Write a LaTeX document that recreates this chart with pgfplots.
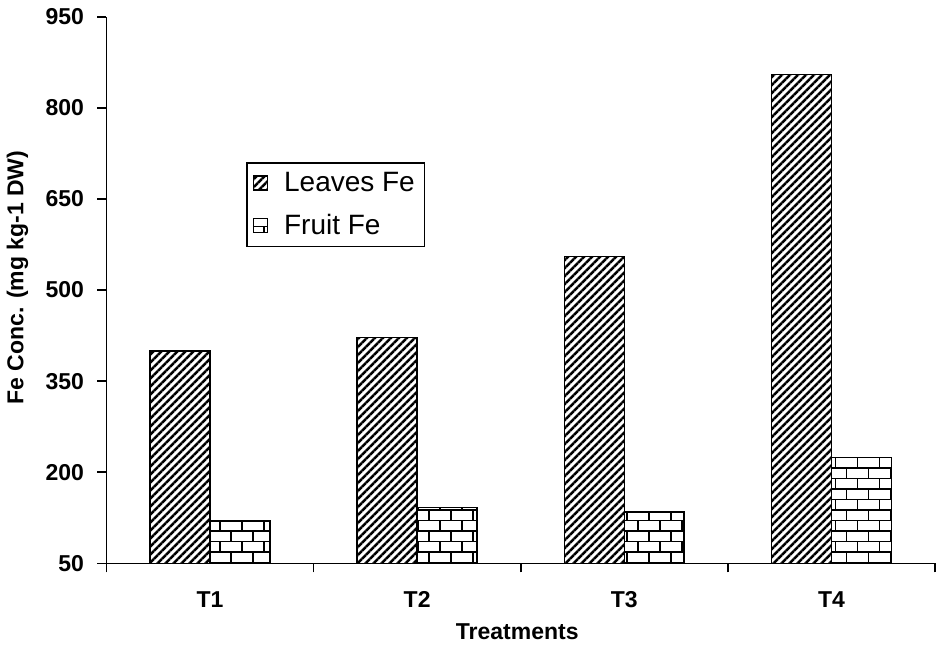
\documentclass[border=0pt]{standalone}
\usepackage{fontspec}
\setmainfont{Liberation Sans}
\usepackage{pgfplots}
\pgfplotsset{compat=1.18}
\usetikzlibrary{patterns.meta}

% brick pattern, roughly as in the original
\tikzdeclarepattern{
  name=mybricks,
  type=uncolored,
  bottom left={(-0.6pt,-0.6pt)},
  top right={(11.6pt,11.1pt)},
  tile size={(11pt,10.5pt)},
  code={
    \draw[line width=0.9pt] (-0.6pt,0pt) -- (11.6pt,0pt);
    \draw[line width=0.9pt] (-0.6pt,5.25pt) -- (11.6pt,5.25pt);
    \draw[line width=0.9pt] (-0.6pt,10.5pt) -- (11.6pt,10.5pt);
    \draw[line width=0.9pt] (0pt,0pt) -- (0pt,5.25pt);
    \draw[line width=0.9pt] (11pt,0pt) -- (11pt,5.25pt);
    \draw[line width=0.9pt] (5.5pt,5.25pt) -- (5.5pt,10.5pt);
  }
}

\newcommand{\boldlab}{\bfseries\fontsize{11.5}{13}\selectfont}

\begin{document}
\begin{tikzpicture}
\path (-53pt,-46.75pt) rectangle (418.5pt,281.85pt);
\begin{axis}[
  at={(0,0)}, anchor=south west,
  scale only axis, width=414.5pt, height=273.5pt,
  ybar=0pt, bar width=30pt,
  xmin=-0.5, xmax=3.5, ymin=50, ymax=950,
  axis x line*=bottom, axis y line*=left,
  axis line style={line width=0.8pt},
  ytick={50,200,...,950},
  xtick={0,1,2,3}, xticklabels={T1,T2,T3,T4},
  minor xtick={-0.5,0.5,1.5,2.5,3.5},
  major x tick style={draw=none},
  tick align=outside,
  major tick length=4.5pt, minor tick length=4.5pt,
  tick style={black, line width=0.8pt},
  /pgf/number format/assume math mode=true,
  ticklabel style={font=\boldlab},
  xticklabel style={yshift=-6pt},
  yticklabel style={xshift=-3.2pt},
  xlabel={Treatments},
  xlabel style={at={(axis description cs:0.4958,-0.1243)}, anchor=center, font=\boldlab},
  ylabel={Fe Conc. (mg kg-1 DW)},
  ylabel style={at={(axis description cs:-0.1074,0.523)}, anchor=center, rotate=0, font=\boldlab},
  legend style={at={(0.1689,0.7336)}, anchor=north west, draw=black, line width=0.6pt,
    font=\fontsize{14}{16}\selectfont, row sep=6pt, column sep=6pt,
    inner xsep=3pt, inner ysep=2.5pt},
  legend cell align=left,
  legend image code/.code={\draw[#1,draw=black,line width=0.6pt] (0pt,-3.5pt) rectangle (7pt,3.5pt);},
]
\addplot[draw=black, line width=0.75pt, pattern={Lines[angle=45,distance=2.83pt,line width=1.3pt]}]
  coordinates {(0,400) (1,422) (2,555) (3,855)};
\addlegendentry{Leaves Fe}
\addplot[draw=black, line width=0.75pt, pattern=mybricks]
  coordinates {(0,120) (1,142) (2,135) (3,224)};
\addlegendentry{Fruit Fe}
\end{axis}
\end{tikzpicture}
\end{document}
